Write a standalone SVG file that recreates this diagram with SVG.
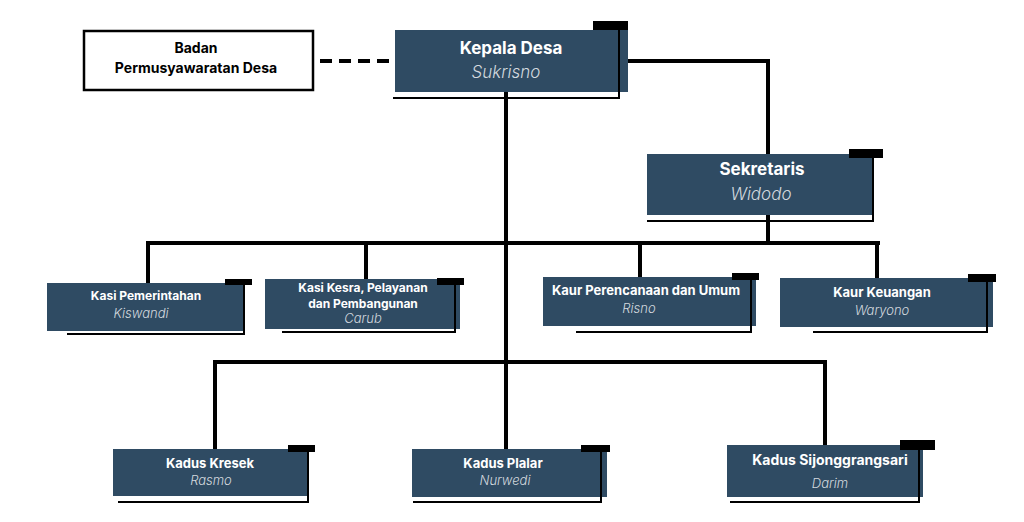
<svg xmlns="http://www.w3.org/2000/svg" width="1024" height="522" viewBox="0 0 1024 522">
<style>
.box{fill:#2f4b63}
.tab{fill:#000}
.deco{fill:none;stroke:#000;stroke-width:2}
.conn{fill:none;stroke:#000;stroke-width:4;stroke-linecap:butt}
.t{font-family:Inter,"Liberation Sans",sans-serif;font-weight:700;fill:#fff;text-anchor:middle}
.n{font-family:Inter,"Liberation Sans",sans-serif;font-weight:300;font-style:italic;fill:#d3d9df;text-anchor:middle}
.b{font-family:Inter,"Liberation Sans",sans-serif;font-weight:700;fill:#000;text-anchor:middle;font-size:14px}
</style>
<rect width="1024" height="522" fill="#fff"/>
<g id="connectors">
<path class="conn" d="M506 92V449"/>
<path class="conn" d="M628 61H768V243"/>
<path class="conn" d="M320 61H395" stroke-dasharray="12 7"/>
<path class="conn" d="M146 243H880"/>
<path class="conn" d="M148 243V283M366 243V279M640 243V277M877 243V278"/>
<path class="conn" d="M213 362H827"/>
<path class="conn" d="M215 362V449M825 362V445"/>
</g>
<g id="badan">
<rect x="84" y="31" width="229" height="59" fill="#fff" stroke="#000" stroke-width="2.5"/>
<text class="b" x="196" y="53">Badan</text>
<text class="b" x="196" y="73">Permusyawaratan Desa</text>
</g>
<g id="kepala">
<rect class="box" x="395" y="30" width="233" height="62"/>
<rect class="tab" x="593" y="21" width="35" height="9"/>
<path class="deco" d="M619 25V98H393"/>
<text class="t" x="511" y="54" font-size="17">Kepala Desa</text>
<text class="n" x="506" y="78" font-size="17">Sukrisno</text>
</g>
<g id="sekretaris">
<rect class="box" x="647" y="154" width="226" height="61"/>
<rect class="tab" x="849" y="149" width="34" height="9"/>
<path class="deco" d="M873 153V221H647"/>
<text class="t" x="762" y="175" font-size="17">Sekretaris</text>
<text class="n" x="761" y="200" font-size="17">Widodo</text>
</g>
<g id="kasi-pemerintahan">
<rect class="box" x="47" y="283" width="198" height="48"/>
<rect class="tab" x="225" y="279" width="27" height="6"/>
<path class="deco" d="M244 282V334H67"/>
<text class="t" x="146" y="300" font-size="12">Kasi Pemerintahan</text>
<text class="n" x="141" y="318" font-size="13">Kiswandi</text>
</g>
<g id="kasi-kesra">
<rect class="box" x="265" y="279" width="195" height="50"/>
<rect class="tab" x="437" y="278" width="27" height="7"/>
<path class="deco" d="M455 282V332H282"/>
<text class="t" x="363" y="292" font-size="12">Kasi Kesra, Pelayanan</text>
<text class="t" x="363" y="308" font-size="12">dan Pembangunan</text>
<text class="n" x="363" y="323" font-size="13">Carub</text>
</g>
<g id="kaur-perencanaan">
<rect class="box" x="543" y="277" width="213" height="49"/>
<rect class="tab" x="732" y="273" width="27" height="7"/>
<path class="deco" d="M751 276V332H576"/>
<text class="t" x="646" y="295" font-size="13">Kaur Perencanaan dan Umum</text>
<text class="n" x="639" y="313" font-size="13">Risno</text>
</g>
<g id="kaur-keuangan">
<rect class="box" x="780" y="278" width="213" height="49"/>
<rect class="tab" x="968" y="274" width="28" height="8"/>
<path class="deco" d="M987 278V332H813"/>
<text class="t" x="882" y="297" font-size="13">Kaur Keuangan</text>
<text class="n" x="882" y="315" font-size="13">Waryono</text>
</g>
<g id="kadus-kresek">
<rect class="box" x="113" y="449" width="195" height="47"/>
<rect class="tab" x="288" y="445" width="27" height="7"/>
<path class="deco" d="M308 449V502H118"/>
<text class="t" x="210" y="468" font-size="13">Kadus Kresek</text>
<text class="n" x="211" y="485" font-size="13">Rasmo</text>
</g>
<g id="kadus-plalar">
<rect class="box" x="412" y="449" width="195" height="48"/>
<rect class="tab" x="581" y="445" width="29" height="7"/>
<path class="deco" d="M601 449V502H413"/>
<text class="t" x="503" y="468" font-size="13">Kadus Plalar</text>
<text class="n" x="505" y="485" font-size="13">Nurwedi</text>
</g>
<g id="kadus-sijonggrangsari">
<rect class="box" x="727" y="445" width="196" height="52"/>
<rect class="tab" x="900" y="440" width="35" height="10"/>
<path class="deco" d="M919 445V502H730"/>
<text class="t" x="830" y="465" font-size="14">Kadus Sijonggrangsari</text>
<text class="n" x="830" y="488" font-size="13">Darim</text>
</g>
</svg>
